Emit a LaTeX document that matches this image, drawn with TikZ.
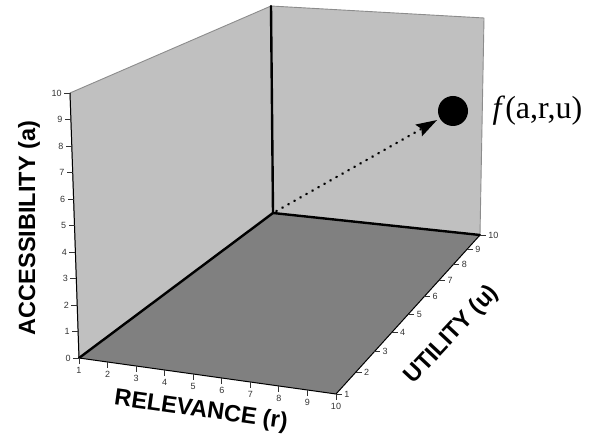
\documentclass[tikz,border=0pt]{standalone}
\usepackage{fontspec}
\setmainfont{Liberation Serif}
\setsansfont{Liberation Sans}
\usetikzlibrary{arrows.meta,calc,positioning}
\definecolor{WallGray}{HTML}{C0C0C0}
\definecolor{FloorGray}{HTML}{808080}
\definecolor{EdgeGray}{HTML}{8C8C8C}
\definecolor{TickInk}{HTML}{333333}

\begin{document}
\begin{tikzpicture}[x=1pt,y=-1pt,
    wall/.style={fill=WallGray,draw=EdgeGray,line width=0.9pt,line join=round},
    floor/.style={fill=FloorGray},
    seam/.style={line width=2.4pt,draw=black,line cap=round},
    rim/.style={line width=1pt,draw=black},
    tick/.style={line width=0.8pt,draw=TickInk},
    num/.style={font=\sffamily\fontsize{9}{9}\selectfont,text=TickInk,inner sep=1pt},
    axislabel/.style={font=\sffamily\bfseries\fontsize{23.5}{24}\selectfont,inner sep=0pt},
    arrow/.style={-{Stealth[length=21pt,width=13pt,inset=3pt]},line width=2.8pt,line cap=round,
      dash pattern=on 0.1pt off 6.8pt,shorten <=4pt,shorten >=3pt}
  ]
  \useasboundingbox (0,0) rectangle (597,435);
  % corners of the box
  \coordinate (O) at (79,358);
  \coordinate (Atop) at (70,93);
  \coordinate (Btop) at (271,6);
  \coordinate (B) at (273,213);
  \coordinate (Rtop) at (484,18);
  \coordinate (Rbot) at (480,235);
  \coordinate (F) at (336,394);

  % planes
  \fill[floor] (O) -- (F) -- (Rbot) -- (B) -- cycle;
  \draw[wall] (O) -- (Atop) -- (Btop) -- (B) -- cycle;
  \draw[wall] (B) -- (Btop) -- (Rtop) -- (Rbot) -- cycle;
  \draw[rim] (O) -- (Atop);
  \draw[rim] (O) -- (F) -- (Rbot);
  \draw[seam] (O) -- (B) -- (Rbot);
  \draw[seam] (B) -- (Btop);

  % accessibility scale
  \foreach \i in {0,...,10}{
    \coordinate (a\i) at ($(O)!\i/10!(Atop)$);
    \draw[tick] (a\i) -- ++(-6,0) node[num,anchor=east,xshift=-1pt] (na\i) {\i};
  }
  % relevance scale
  \foreach \i in {1,...,10}{
    \pgfmathsetmacro\s{(\i-1)/9}
    \coordinate (r\i) at ($(O)!\s!(F)$);
    \draw[tick] (r\i) -- ++(0,6) node[num,anchor=north,yshift=-2pt] (nr\i) {\i};
  }
  % utility scale (perspective spacing)
  \foreach \i in {1,...,10}{
    \pgfmathsetmacro\s{1.265*(\i-1)/9/(1+0.265*(\i-1)/9)}
    \coordinate (u\i) at ($(F)!\s!(Rbot)$);
    \draw[tick] (u\i) -- ++(6,0) node[num,anchor=west,xshift=1pt] (nu\i) {\i};
  }

  % axis names
  \node[axislabel,rotate=90] (acc) at (29,228) {ACCESSIBILITY (a)};
  \node[axislabel,rotate=-8] (rel) at (201,411) {RELEVANCE (r)};
  \node[axislabel,rotate=47] (uti) at (452,335) {UTILITY (u)};

  % the point
  \node[circle,fill=black,minimum size=30pt,inner sep=0pt] (dot) at (453,111) {};
  \node[right=21pt of dot,font=\fontsize{32}{32}\selectfont] (fval) {\textit{f}(a,r,u)};
  \draw[arrow] (B) -- (dot);
\end{tikzpicture}
\end{document}
